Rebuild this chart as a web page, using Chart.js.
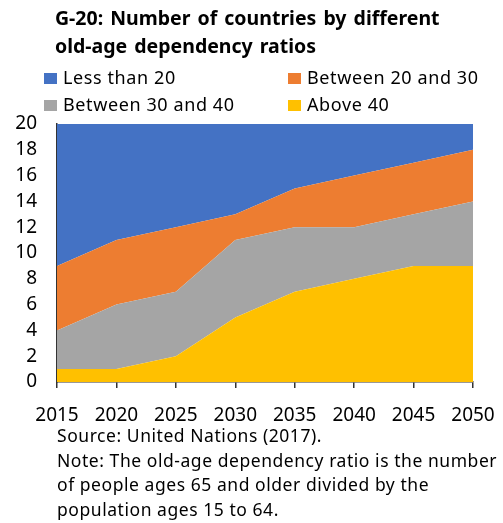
<!DOCTYPE html>
<html>
<head>
<meta charset="utf-8">
<script src="https://cdn.jsdelivr.net/npm/chart.js@4"></script>
<style>
  body { margin: 0; background: #fff; font-family: "Noto Sans", sans-serif; color: #000; }
  #wrap { position: relative; width: 503px; height: 523px; overflow: hidden; }
  #chartBox { position: absolute; left: 0; top: 0; width: 503px; height: 523px; }
  .title { position: absolute; left: 55px; top: 4px; font-weight: bold; font-size: 19.5px; line-height: 28px; word-spacing: 2px; white-space: nowrap; }
  .legend { position: absolute; left: 44px; top: 67px; width: 459px; }
  .legend .item { position: absolute; font-size: 18px; line-height: 20px; letter-spacing: 0.6px; white-space: nowrap; }
  .legend .box { display: inline-block; width: 13px; height: 11px; margin-right: 6px; vertical-align: 0px; }
  .note { position: absolute; left: 57px; top: 423px; font-size: 17.5px; line-height: 24.5px; letter-spacing: 0.55px; white-space: nowrap; }
</style>
</head>
<body>
<div id="wrap">
  <div id="chartBox"><canvas id="areaChart"></canvas></div>
  <div class="title">G-20: Number of countries by different<br>old-age dependency ratios</div>
  <div class="legend" id="legend"></div>
  <div class="note">Source: United Nations (2017).<br>Note: The old-age dependency ratio is the number<br>of people ages 65 and older divided by the<br>population ages 15 to 64.</div>
</div>
<script>
// -- Data --
const years = ['2015', '2020', '2025', '2030', '2035', '2040', '2045', '2050']
const lessThan20 = [11, 9, 8, 7, 5, 4, 3, 2]
const between20and30 = [5, 5, 5, 2, 3, 4, 4, 4]
const between30and40 = [3, 5, 5, 6, 5, 4, 4, 5]
const above40 = [1, 1, 2, 5, 7, 8, 9, 9]
const yTicks = [0, 2, 4, 6, 8, 10, 12, 14, 16, 18, 20]

// legend order as in the picture, stacking order is bottom-up
const series = [
  { label: 'Less than 20', data: lessThan20, color: '#4472C4' },
  { label: 'Between 20 and 30', data: between20and30, color: '#ED7D31' },
  { label: 'Between 30 and 40', data: between30and40, color: '#A5A5A5' },
  { label: 'Above 40', data: above40, color: '#FFC000' },
]

// -- Legend --
let legendEl = document.getElementById('legend')
series.forEach((s, i) => {
  let item = document.createElement('div')
  item.className = 'item'
  item.style.left = (i % 2 ? 244 : 0) + 'px'
  item.style.top = (Math.floor(i / 2) * 27) + 'px'
  item.innerHTML = `<span class="box" style="background:${s.color}"></span>${s.label}`
  legendEl.appendChild(item)
})

// -- Chart --
let stacked = series.slice().reverse()
let chartData = {
  labels: years,
  datasets: stacked.map((s, i) => ({
    label: s.label,
    data: s.data,
    backgroundColor: s.color,
    borderColor: s.color,
    borderWidth: 0,
    pointRadius: 0,
    tension: 0,
    fill: i === 0 ? 'origin' : '-1'
  }))
}

new Chart(document.getElementById('areaChart'), {
  type: 'line',
  data: chartData,
  options: {
    responsive: true,
    maintainAspectRatio: false,
    animation: false,
    layout: { padding: { left: 0, right: 30, top: 124, bottom: 101 } },
    plugins: { legend: { display: false }, tooltip: { enabled: false } },
    scales: {
      x: {
        offset: false,
        grid: { drawOnChartArea: false, drawTicks: true, tickLength: 6, color: '#333', lineWidth: 1.5 },
        border: { display: true, color: '#333', width: 1.5 },
        ticks: { color: '#000', font: { family: 'Noto Sans', size: 19 }, padding: 16, maxRotation: 0, autoSkip: false },
        afterFit: s => { s.height = 40; s.paddingLeft = 0; s.paddingRight = 0 }
      },
      y: {
        stacked: true,
        min: 0,
        max: 20,
        afterBuildTicks: s => { s.ticks = yTicks.map(v => ({ value: v })) },
        grid: { display: false, drawTicks: false, tickLength: 0 },
        border: { display: true, color: '#333', width: 1.5 },
        ticks: { color: '#000', font: { family: 'Noto Sans', size: 19 }, padding: 20 },
        afterFit: s => { s.width = 57 }
      }
    }
  }
})
</script>
</body>
</html>
